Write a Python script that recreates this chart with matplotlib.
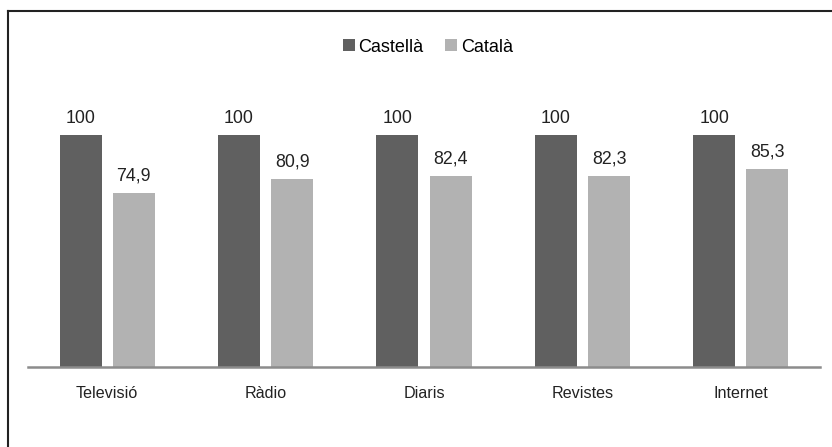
import matplotlib.pyplot as plt
from matplotlib import font_manager
import numpy as np

categories = ['Televisió', 'Ràdio', 'Diaris', 'Revistes', 'Internet']
castella = [100, 100, 100, 100, 100]
catala = [74.9, 80.9, 82.4, 82.3, 85.3]

names = {f.name for f in font_manager.fontManager.ttflist}
font = 'Liberation Sans Narrow' if 'Liberation Sans Narrow' in names else 'Liberation Sans'
plt.rcParams['font.family'] = [font, 'DejaVu Sans']

dark = '#606060'
light = '#b2b2b2'

fig = plt.figure(figsize=(8.32, 4.47), dpi=100)
ax = fig.add_axes([28 / 832, 80 / 447, 792 / 832, 278.4 / 447])

x = np.arange(len(categories))
w = 0.265
off = 0.168
b1 = ax.bar(x - off, castella, w, color=dark, label='Castellà', zorder=2)
b2 = ax.bar(x + off, catala, w, color=light, label='Català', zorder=2)

def fmt(v):
    return f'{v:g}'.replace('.', ',')

for bars, vals in ((b1, castella), (b2, catala)):
    for rect, v in zip(bars, vals):
        ax.text(rect.get_x() + rect.get_width() / 2, v + 3.6, fmt(v),
                ha='center', va='bottom', fontsize=12.8, color='#222222')

ax.set_xlim(-0.5, len(categories) - 0.5)
ax.set_ylim(0, 120)
ax.set_xticks(x)
ax.set_xticklabels(categories, fontsize=11.6, color='#222222')
ax.tick_params(axis='x', length=0, pad=14)
ax.set_yticks([])
for s in ('top', 'right', 'left'):
    ax.spines[s].set_visible(False)
ax.spines['bottom'].set_color('#8c8c8c')
ax.spines['bottom'].set_linewidth(1.8)

fig.legend(handles=[b1, b2], loc='center', bbox_to_anchor=(428 / 832, 1 - 47 / 447),
           ncol=2, frameon=False, fontsize=13, handlelength=0.65, handleheight=0.65,
           handletextpad=0.2, columnspacing=1.2)

# marc superior i esquerre
fig.add_artist(plt.Line2D([8 / 832, 8 / 832], [0, 1 - 11 / 447], color='#222222', lw=1.5,
                          transform=fig.transFigure))
fig.add_artist(plt.Line2D([8 / 832, 1], [1 - 11 / 447, 1 - 11 / 447], color='#222222', lw=1.5,
                          transform=fig.transFigure))

fig.savefig('out.png', dpi=100)
